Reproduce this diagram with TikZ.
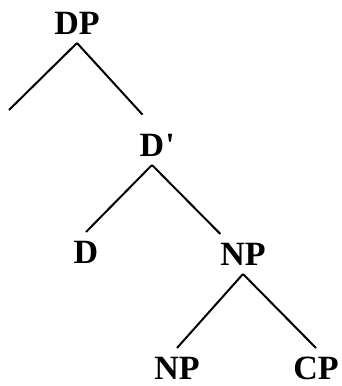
\documentclass[tikz,border=0pt]{standalone}
\usepackage{fontspec}
\setmainfont{Liberation Serif}[Ligatures=TeXOff]
\usepackage{tikz}
\usetikzlibrary{positioning}

\tikzset{
	cat/.style={font=\fontsize{34}{34}\selectfont\bfseries, inner sep=0pt,
		text height=22pt, text depth=0pt, outer xsep=0pt, outer ysep=9pt},
	branch/.style={line width=2pt}
}

\begin{document}
\begin{tikzpicture}[x=1pt, y=-1pt]
		\useasboundingbox (0,0) rectangle (341,386);
		
		\node[cat] (dp) at (77,23) {DP};
		\node[cat] (dbar) at (152,145) {D\rlap{\kern1pt'}};
		\node[cat] (d) at (86,252) {D};
		\node[cat] (np) at (243,254) {NP};
		\node[cat] (npl) at (177,368) {NP};
		\node[cat] (cp) at (316,368) {CP};
		
		\coordinate (spec) at (9,110);
		
		\draw[branch] (dp.south) -- (spec);
		\draw[branch, shorten >=14pt] (dp.south) -- (dbar.north);
		
		\draw[branch] (dbar.south) -- (d.north);
		\draw[branch] (dbar.south) -- (np.north west);
		
		\draw[branch] (np.south) -- (npl.north);
		\draw[branch] (np.south) -- (cp.north);
	\end{tikzpicture}
\end{document}
